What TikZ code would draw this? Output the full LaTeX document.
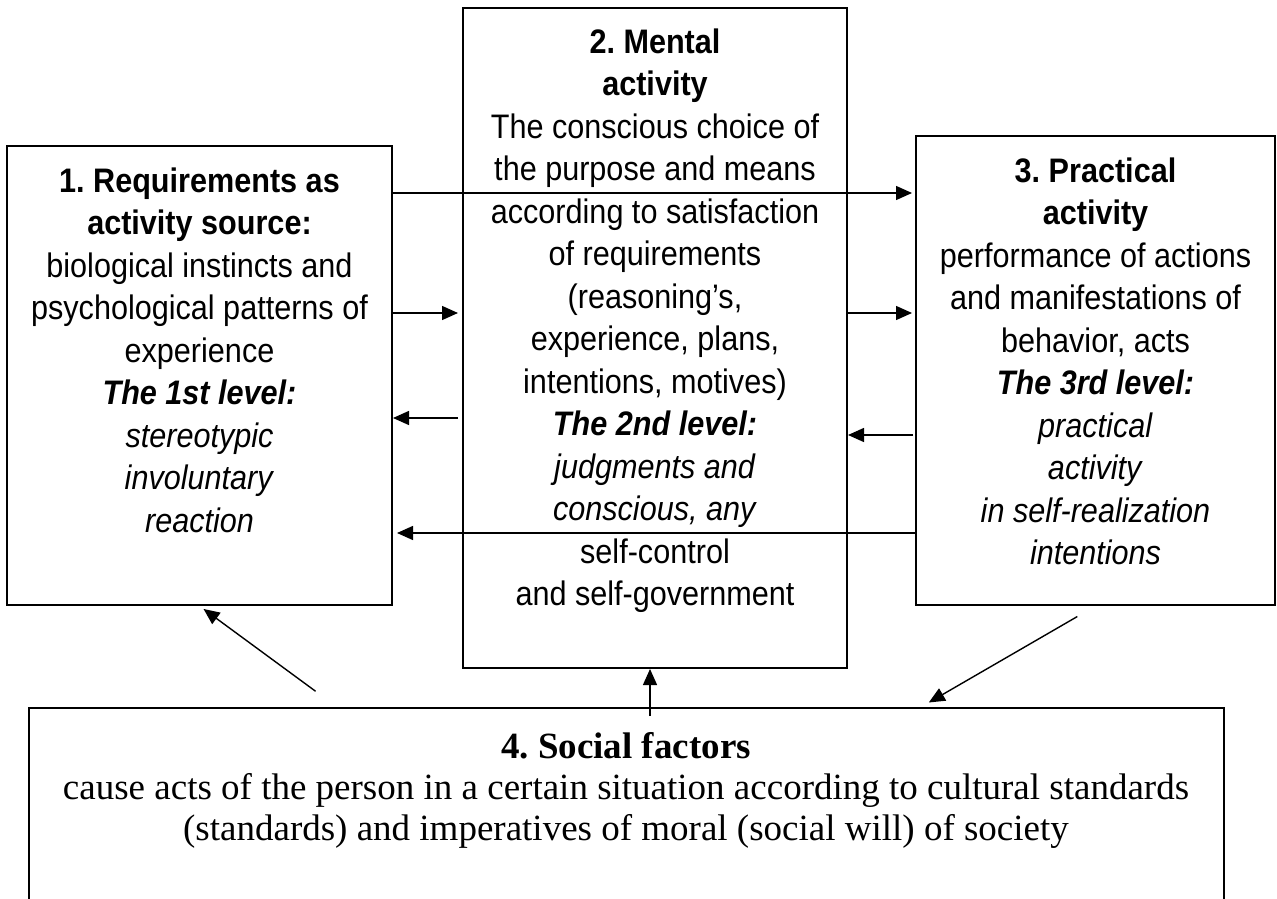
\documentclass[tikz,border=0pt]{standalone}
\usepackage{fontspec}
\setmainfont{Liberation Sans}[FakeStretch=0.9]
\newfontfamily\serifface{Liberation Serif}
\usetikzlibrary{arrows.meta,fit}
\frenchspacing
\begin{document}
\begin{tikzpicture}[x=0.5pt,y=-0.5pt,
  boxframe/.style={draw, line width=1pt, inner sep=0pt},
  boxtext/.style={anchor=north, inner sep=0pt, align=center, font=\frenchspacing\fontsize{17pt}{21.25pt}\selectfont},
  arr/.style={line width=0.7pt, -{Triangle[length=8pt,width=7pt]}},
]
\clip (0,0) rectangle (1277,898);
\fill[white] (0,0) rectangle (1277,898);
% boxes
\node[boxframe, fit={(7,146)(392,605)}] (b1) {};
\node[boxframe, fit={(463,8)(847,668)}] (b2) {};
\node[boxframe, fit={(916,136)(1275,605)}] (b3) {};
\node[boxframe, fit={(29,708)(1224,960)}] (b4) {};
% texts
\node[boxtext] (t1) at (199.5,167) {\textbf{1. Requirements as}\\ \textbf{activity source:}\\ biological instincts and\\ psychological patterns of\\ experience\\ \textbf{\textit{The 1st level:}}\\ \textit{stereotypic}\\ \textit{involuntary}\\ \textit{reaction}};
\node[boxtext] (t2) at (655,28) {\textbf{2. Mental}\\ \textbf{activity}\\ The conscious choice of\\ the purpose and means\\ according to satisfaction\\ of requirements\\ (reasoning’s,\\ experience, plans,\\ intentions, motives)\\ \textbf{\textit{The 2nd level:}}\\ \textit{judgments and}\\ \textit{conscious, any}\\ self-control\\ and self-government};
\node[boxtext] (t3) at (1095.5,157) {\textbf{3. Practical}\\ \textbf{activity}\\ performance of actions\\ and manifestations of\\ behavior, acts\\ \textbf{\textit{The 3rd level:}}\\ \textit{practical}\\ \textit{activity}\\ \textit{in self-realization}\\ \textit{intentions}};
\node[anchor=north, inner sep=0pt, align=center, font=\frenchspacing\serifface\fontsize{18.5pt}{20.5pt}\selectfont] (t4) at (626,732) {\textbf{4. Social factors}\\ cause acts of the person in a certain situation according to cultural standards\\ (standards) and imperatives of moral (social will) of society};
% level coordinates
\coordinate (yA) at (0,193);
\coordinate (yB) at (0,313);
\coordinate (yC) at (0,418);
\coordinate (yE) at (0,435);
\coordinate (yD) at (0,533);
\coordinate (dLx) at (337,0);
\coordinate (dRx) at (921,0);
\coordinate (vx) at (650,716);
% arrows
\draw[arr, shorten >=1.5pt] (b1.east|-yA) -- (b3.west|-yA);
\draw[arr, shorten >=2pt] (b1.east|-yB) -- (b2.west|-yB);
\draw[arr, shorten <=2pt] (b2.west|-yC) -- (b1.east|-yC);
\draw[arr, shorten >=1.5pt] (b2.east|-yB) -- (b3.west|-yB);
\draw[arr, shorten <=1pt] (b3.west|-yE) -- (b2.east|-yE);
\draw[arr, shorten >=2pt] (b3.west|-yD) -- (b1.east|-yD);
\draw[arr, shorten <=13.3pt, shorten >=2.5pt] (b4.north -| dLx) -- (b1.south);
\draw[arr, shorten <=10.5pt, shorten >=4.5pt] (b3.south) -- (b4.north -| dRx);
\draw[arr] (vx) -- (vx |- b2.south);
\end{tikzpicture}
\end{document}
